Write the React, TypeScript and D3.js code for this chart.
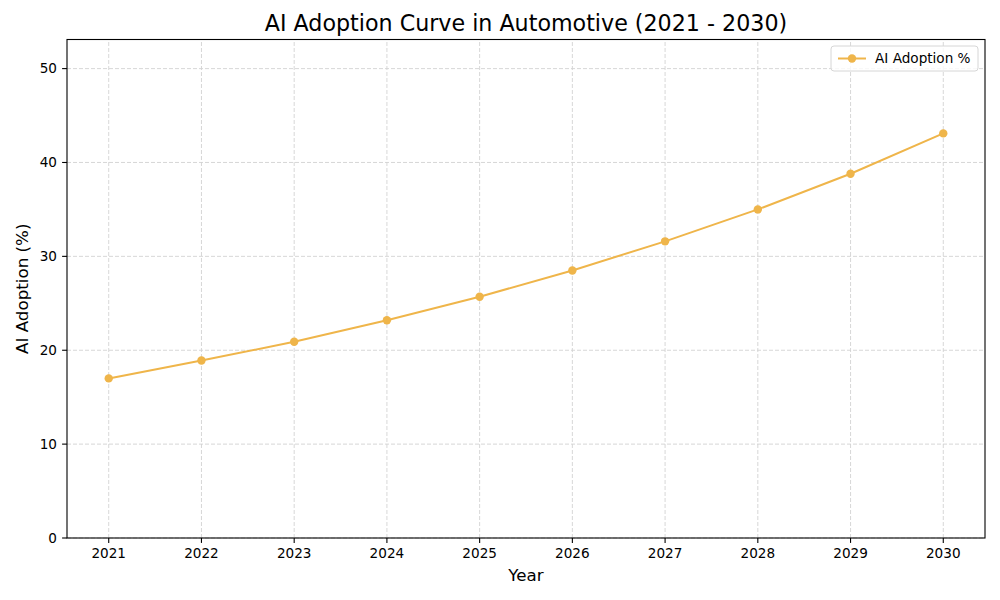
import { useEffect, useRef } from "react";
import * as d3 from "d3";

const years = [2021, 2022, 2023, 2024, 2025, 2026, 2027, 2028, 2029, 2030];
const adoption = [17.0, 18.9, 20.9, 23.2, 25.7, 28.5, 31.6, 35.0, 38.8, 43.1];
const yTicks = [0, 10, 20, 30, 40, 50];
const seriesLabel = "AI Adoption %";

const W = 1000;
const H = 600;
const margin = { top: 39.5, right: 15, bottom: 62, left: 67 };
const LINE_COLOR = "#EFB54A";
const FONT = "'DejaVu Sans', sans-serif";

export default function App() {
  const svgRef = useRef<SVGSVGElement>(null);

  useEffect(() => {
    if (!svgRef.current) return;
    const svg = d3.select(svgRef.current);
    svg.selectAll("*").remove();

    const x0 = margin.left;
    const x1 = W - margin.right;
    const y0 = H - margin.bottom;
    const y1 = margin.top;

    const x = d3.scaleLinear().domain([2020.55, 2030.45]).range([x0, x1]);
    const y = d3.scaleLinear().domain([0, 53.1]).range([y0, y1]);

    svg.append("rect").attr("width", W).attr("height", H).attr("fill", "#fff");

    // grid
    const grid = svg.append("g").attr("stroke", "#d3d3d3").attr("stroke-width", 0.9).attr("stroke-dasharray", "4,2");
    years.forEach((yr) => {
      grid.append("line").attr("x1", x(yr)).attr("x2", x(yr)).attr("y1", y0).attr("y2", y1);
    });
    yTicks.forEach((t) => {
      grid.append("line").attr("x1", x0).attr("x2", x1).attr("y1", y(t)).attr("y2", y(t));
    });

    // line
    const data = years.map((yr, i) => ({ yr, v: adoption[i] }));
    const line = d3
      .line<{ yr: number; v: number }>()
      .x((d) => x(d.yr))
      .y((d) => y(d.v));
    svg
      .append("path")
      .datum(data)
      .attr("d", line)
      .attr("fill", "none")
      .attr("stroke", LINE_COLOR)
      .attr("stroke-width", 2);
    svg
      .append("g")
      .selectAll("circle")
      .data(data)
      .enter()
      .append("circle")
      .attr("cx", (d) => x(d.yr))
      .attr("cy", (d) => y(d.v))
      .attr("r", 4.2)
      .attr("fill", LINE_COLOR);

    // spines
    svg
      .append("rect")
      .attr("x", x0)
      .attr("y", y1)
      .attr("width", x1 - x0)
      .attr("height", y0 - y1)
      .attr("fill", "none")
      .attr("stroke", "#000")
      .attr("stroke-width", 1.1);

    // x ticks
    const xt = svg.append("g");
    years.forEach((yr) => {
      xt.append("line").attr("x1", x(yr)).attr("x2", x(yr)).attr("y1", y0).attr("y2", y0 + 4.9).attr("stroke", "#000").attr("stroke-width", 1.1);
      xt.append("text")
        .attr("x", x(yr))
        .attr("y", y0 + 20)
        .attr("text-anchor", "middle")
        .style("font-family", FONT)
        .style("font-size", "13.6px")
        .text(String(yr));
    });

    // y ticks
    const yt = svg.append("g");
    yTicks.forEach((t) => {
      yt.append("line").attr("x1", x0 - 4.9).attr("x2", x0).attr("y1", y(t)).attr("y2", y(t)).attr("stroke", "#000").attr("stroke-width", 1.1);
      yt.append("text")
        .attr("x", x0 - 10)
        .attr("y", y(t))
        .attr("dy", "0.35em")
        .attr("text-anchor", "end")
        .style("font-family", FONT)
        .style("font-size", "13.6px")
        .text(String(t));
    });

    // title and labels
    svg
      .append("text")
      .attr("x", (x0 + x1) / 2)
      .attr("y", 31)
      .attr("text-anchor", "middle")
      .style("font-family", FONT)
      .style("font-size", "22.2px")
      .text("AI Adoption Curve in Automotive (2021 - 2030)");
    svg
      .append("text")
      .attr("x", (x0 + x1) / 2)
      .attr("y", 581)
      .attr("text-anchor", "middle")
      .style("font-family", FONT)
      .style("font-size", "16.7px")
      .text("Year");
    svg
      .append("text")
      .attr("transform", `translate(28,${(y0 + y1) / 2}) rotate(-90)`)
      .attr("text-anchor", "middle")
      .style("font-family", FONT)
      .style("font-size", "16.7px")
      .text("AI Adoption (%)");

    // legend
    const lg = svg.append("g").attr("transform", "translate(831,46)");
    lg.append("rect")
      .attr("width", 147)
      .attr("height", 25)
      .attr("rx", 3)
      .attr("fill", "#fff")
      .attr("fill-opacity", 0.8)
      .attr("stroke", "#d6d6d6")
      .attr("stroke-width", 1);
    lg.append("line").attr("x1", 7).attr("x2", 35).attr("y1", 12.5).attr("y2", 12.5).attr("stroke", LINE_COLOR).attr("stroke-width", 2);
    lg.append("circle").attr("cx", 21).attr("cy", 12.5).attr("r", 4.2).attr("fill", LINE_COLOR);
    lg.append("text")
      .attr("x", 44)
      .attr("y", 12.5)
      .attr("dy", "0.35em")
      .style("font-family", FONT)
      .style("font-size", "13.6px")
      .text(seriesLabel);
  }, []);

  return (
    <svg
      ref={svgRef}
      width={W}
      height={H}
      style={{ position: "absolute", left: 0, top: 0, display: "block" }}
    />
  );
}
